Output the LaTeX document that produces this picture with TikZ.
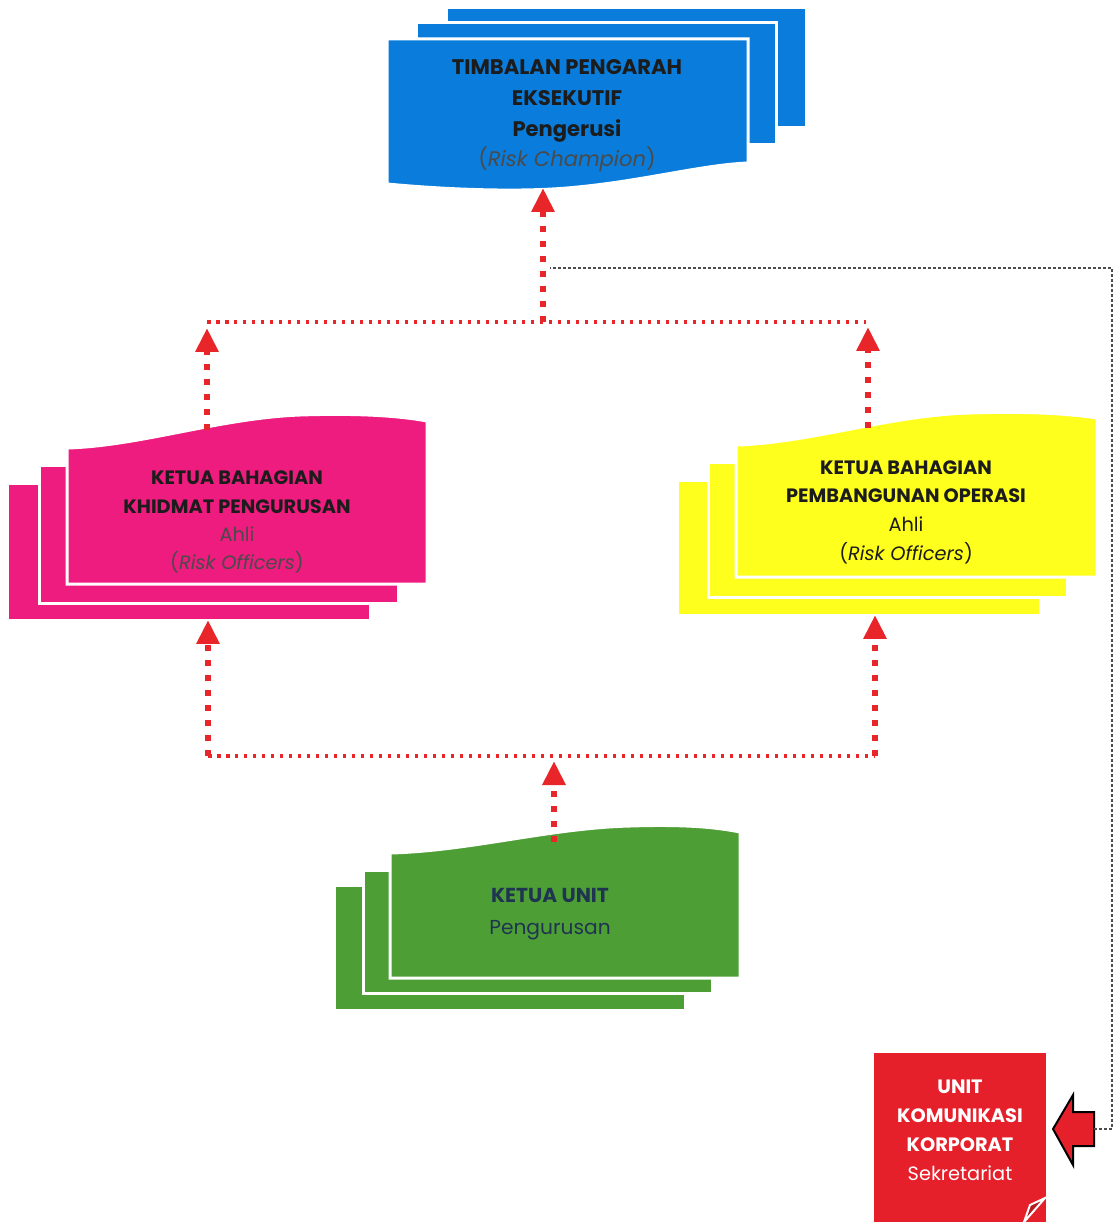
\documentclass[tikz,border=0pt]{standalone}
\usepackage{fontspec}
\setmainfont{Poppins}
\usepackage{tikz}
\usetikzlibrary{positioning, arrows.meta, calc}
\definecolor{kpBlue}{HTML}{0A7DDC}
\definecolor{kpPink}{HTML}{EE1C7E}
\definecolor{kpYellow}{HTML}{FFFF1E}
\definecolor{kpGreen}{HTML}{4D9F35}
\definecolor{kpRed}{HTML}{E6202B}
\definecolor{kpLink}{HTML}{E8262A}
\definecolor{kpGrey}{HTML}{4A4A4A}
\definecolor{kpInk}{HTML}{1C1C1C}
\definecolor{kpNavy}{HTML}{1F3450}
\tikzset{
  layer/.style={draw=white, line width=0.6mm, fill=#1},
  boxtext/.style={
    align=center, inner sep=0pt,
    text=kpInk,
    font=\fontsize{11}{16}\selectfont
  },
  uplink/.style={
    -{Triangle[width=4.4mm, length=4.8mm]},
    kpLink, line width=1.2mm,
    dash pattern=on 1.2mm off 1.8mm
  },
  busline/.style={
    kpLink, line width=0.7mm,
    dash pattern=on 0.7mm off 1.1mm
  },
  sekline/.style={
    black!70, line width=0.3mm,
    dash pattern=on 0.6mm off 0.4mm
  }
}

\begin{document}
\begin{tikzpicture}[x=0.02cm, y=-0.02cm]
  \useasboundingbox (0,0) rectangle (1115,1222);
  % timbalan pengarah
  \draw[layer=kpBlue] (446,8) rectangle (806,128);
  \draw[layer=kpBlue] (416,23) rectangle (776,145);
  \draw[layer=kpBlue] (387,39) -- (748,39) -- (748,163)
    .. controls (700,165) and (640,182) .. (567,188)
    .. controls (520,192) and (450,190) .. (387,184) -- cycle;
  \node[boxtext, font=\fontsize{12}{17.5}\selectfont] (tpe) at (567,116)
    {\textbf{TIMBALAN PENGARAH}\\\textbf{EKSEKUTIF}\\\textbf{Pengerusi}\\{\color{kpGrey}(\textit{Risk Champion})}};
  % khidmat pengurusan
  \draw[layer=kpPink] (8,483) rectangle (370,620);
  \draw[layer=kpPink] (39,465) rectangle (398,603);
  \draw[layer=kpPink] (67,448) .. controls (140,446) and (220,418) .. (300,415)
    .. controls (360,413) and (400,416) .. (427,421) -- (427,584) -- (67,584) -- cycle;
  \node[boxtext] (kbk) at (237,522)
    {\textbf{KETUA BAHAGIAN}\\\textbf{KHIDMAT PENGURUSAN}\\{\color{kpGrey}Ahli}\\{\color{kpGrey}(\textit{Risk Officers})}};
  % pembangunan operasi
  \draw[layer=kpYellow] (677,480) rectangle (1040,615);
  \draw[layer=kpYellow] (708,462) rectangle (1067,597);
  \draw[layer=kpYellow] (736,445) .. controls (810,443) and (890,415) .. (970,413)
    .. controls (1030,411) and (1070,414) .. (1097,418) -- (1097,577) -- (736,577) -- cycle;
  \node[boxtext, font=\fontsize{11}{16.3}\selectfont] (kbo) at (906,512)
    {\textbf{KETUA BAHAGIAN}\\\textbf{PEMBANGUNAN OPERASI}\\Ahli\\(\textit{Risk Officers})};
  % ketua unit
  \draw[layer=kpGreen] (334,885) rectangle (685,1010);
  \draw[layer=kpGreen] (363,870) rectangle (712,993);
  \draw[layer=kpGreen] (390,853) .. controls (470,851) and (550,828) .. (630,826)
    .. controls (690,824) and (720,828) .. (740,832) -- (740,978) -- (390,978) -- cycle;
  \node[boxtext, text=kpNavy, font=\fontsize{11.5}{18}\selectfont] (ku) at (550,914)
    {\textbf{KETUA UNIT}\\Pengurusan};
  % sekretariat
  \fill[kpRed] (874,1053) rectangle (1046,1230);
  \draw[white, line width=0.4mm, fill=kpRed!80!black] (1024,1222) -- (1030,1205) -- (1045,1198) -- cycle;
  \node[boxtext, text=white, font=\fontsize{11}{16.5}\selectfont] (ukk) at (960,1130)
    {\textbf{UNIT}\\\textbf{KOMUNIKASI}\\\textbf{KORPORAT}\\Sekretariat};
  \draw[fill=kpRed, draw=black, line width=0.4mm] (1053,1129) -- (1073,1095) -- (1073,1112)
    -- (1094,1112) -- (1094,1146) -- (1073,1146) -- (1073,1165) -- cycle;
  % joins
  \coordinate (tpeFoot) at (543,188);
  \coordinate (topJoin) at (543,322);
  \coordinate (busL) at (207,322);
  \coordinate (busR) at (866,322);
  \coordinate (kbkHead) at (207,430);
  \coordinate (kbkTip) at (207,328);
  \coordinate (kboHead) at (868,428);
  \coordinate (kboTip) at (868,327);
  \coordinate (kbkFoot) at (208,620);
  \coordinate (kboFoot) at (875,615);
  \coordinate (lowL) at (208,756);
  \coordinate (lowR) at (875,756);
  \coordinate (kuHead) at (554,842);
  \coordinate (lowTip) at (554,761);
  \coordinate (sekTail) at (1094,1129);
  \coordinate (sekCorner) at (1112,268);
  \coordinate (tpeLink) at (550,268);
  \draw[busline] (busL) -- (busR);
  \draw[busline] (lowL) -- (lowR);
  \draw[uplink] (topJoin) -- (tpeFoot);
  \draw[uplink] (kbkHead) -- (kbkTip);
  \draw[uplink] (kboHead) -- (kboTip);
  \draw[uplink] (lowL) -- (kbkFoot);
  \draw[uplink] (lowR) -- (kboFoot);
  \draw[uplink] (kuHead) -- (lowTip);
  \draw[sekline] (sekTail) -| (sekCorner) -- (tpeLink);
\end{tikzpicture}
\end{document}
